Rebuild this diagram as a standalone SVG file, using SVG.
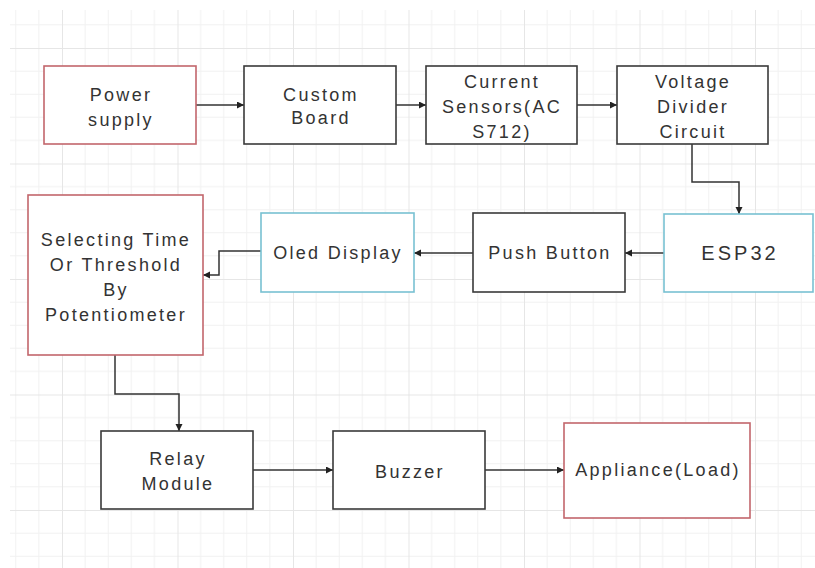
<svg xmlns="http://www.w3.org/2000/svg" width="815" height="568" viewBox="0 0 815 568">
  <defs>
    <pattern id="grid" patternUnits="userSpaceOnUse" x="62" y="48" width="115.5" height="115.5">
      <path d="M23.1 0V115.5M46.2 0V115.5M69.3 0V115.5M92.4 0V115.5M0 23.1H115.5M0 46.2H115.5M0 69.3H115.5M0 92.4H115.5" stroke="#f1f1f1" stroke-width="1" fill="none"/>
      <path d="M0.5 0V115.5M0 0.5H115.5" stroke="#e6e6e6" stroke-width="1" fill="none"/>
    </pattern>
    <marker id="arrow" markerUnits="userSpaceOnUse" markerWidth="8" markerHeight="8" refX="7" refY="3.5" orient="auto">
      <path d="M0 0L7 3.5L0 7z" fill="#222"/>
    </marker>
    <style>
      .box{fill:#ffffff;stroke-width:1.6}
      .blk{stroke:#3a3a3a}
      .red{stroke:#c2666c}
      .cyan{stroke:#78c1d2}
      .lbl{font-family:"Liberation Sans",Arial,sans-serif;font-size:18px;fill:#333333;text-anchor:middle;letter-spacing:2.3px}
      .conn{fill:none;stroke:#333333;stroke-width:1.5;marker-end:url(#arrow)}
    </style>
  </defs>
  <rect x="0" y="0" width="815" height="568" fill="#ffffff"/>
  <rect x="10" y="10" width="805" height="558" fill="url(#grid)"/>

  <g id="connectors">
    <path class="conn" d="M196 105H244"/>
    <path class="conn" d="M396 105H426"/>
    <path class="conn" d="M577 105H617"/>
    <path class="conn" d="M692 144V182H739V214"/>
    <path class="conn" d="M664 253H625"/>
    <path class="conn" d="M473 253H414"/>
    <path class="conn" d="M261 251H219V275H203"/>
    <path class="conn" d="M115 355V394H179V431"/>
    <path class="conn" d="M253 470H333"/>
    <path class="conn" d="M485 470H564"/>
  </g>

  <g id="power-supply">
    <rect class="box red" x="44" y="66" width="152" height="78"/>
    <text class="lbl" x="121" y="101">Power</text>
    <text class="lbl" x="121" y="126">supply</text>
  </g>
  <g id="custom-board">
    <rect class="box blk" x="244" y="66" width="152" height="78"/>
    <text class="lbl" x="321" y="101">Custom</text>
    <text class="lbl" x="321" y="124">Board</text>
  </g>
  <g id="current-sensors">
    <rect class="box blk" x="426" y="66" width="151" height="78"/>
    <text class="lbl" x="502" y="88">Current</text>
    <text class="lbl" x="502" y="113">Sensors(AC</text>
    <text class="lbl" x="502" y="138">S712)</text>
  </g>
  <g id="voltage-divider">
    <rect class="box blk" x="617" y="66" width="151" height="78"/>
    <text class="lbl" x="693" y="88">Voltage</text>
    <text class="lbl" x="693" y="113">Divider</text>
    <text class="lbl" x="693" y="138">Circuit</text>
  </g>
  <g id="selecting">
    <rect class="box red" x="28" y="195" width="175" height="160"/>
    <text class="lbl" x="116" y="246">Selecting Time</text>
    <text class="lbl" x="116" y="271">Or Threshold</text>
    <text class="lbl" x="116" y="296">By</text>
    <text class="lbl" x="116" y="321">Potentiometer</text>
  </g>
  <g id="oled-display">
    <rect class="box cyan" x="261" y="213" width="153" height="79"/>
    <text class="lbl" x="338" y="259">Oled Display</text>
  </g>
  <g id="push-button">
    <rect class="box blk" x="473" y="213" width="152" height="79"/>
    <text class="lbl" x="550" y="259">Push Button</text>
  </g>
  <g id="esp32">
    <rect class="box cyan" x="664" y="214" width="149" height="78"/>
    <text class="lbl" x="740" y="260" style="font-size:20px;letter-spacing:3px">ESP32</text>
  </g>
  <g id="relay-module">
    <rect class="box blk" x="101" y="431" width="152" height="78"/>
    <text class="lbl" x="178" y="465">Relay</text>
    <text class="lbl" x="178" y="490">Module</text>
  </g>
  <g id="buzzer">
    <rect class="box blk" x="333" y="431" width="152" height="78"/>
    <text class="lbl" x="410" y="478">Buzzer</text>
  </g>
  <g id="appliance">
    <rect class="box red" x="564" y="423" width="186" height="95"/>
    <text class="lbl" x="658" y="476">Appliance(Load)</text>
  </g>
</svg>
